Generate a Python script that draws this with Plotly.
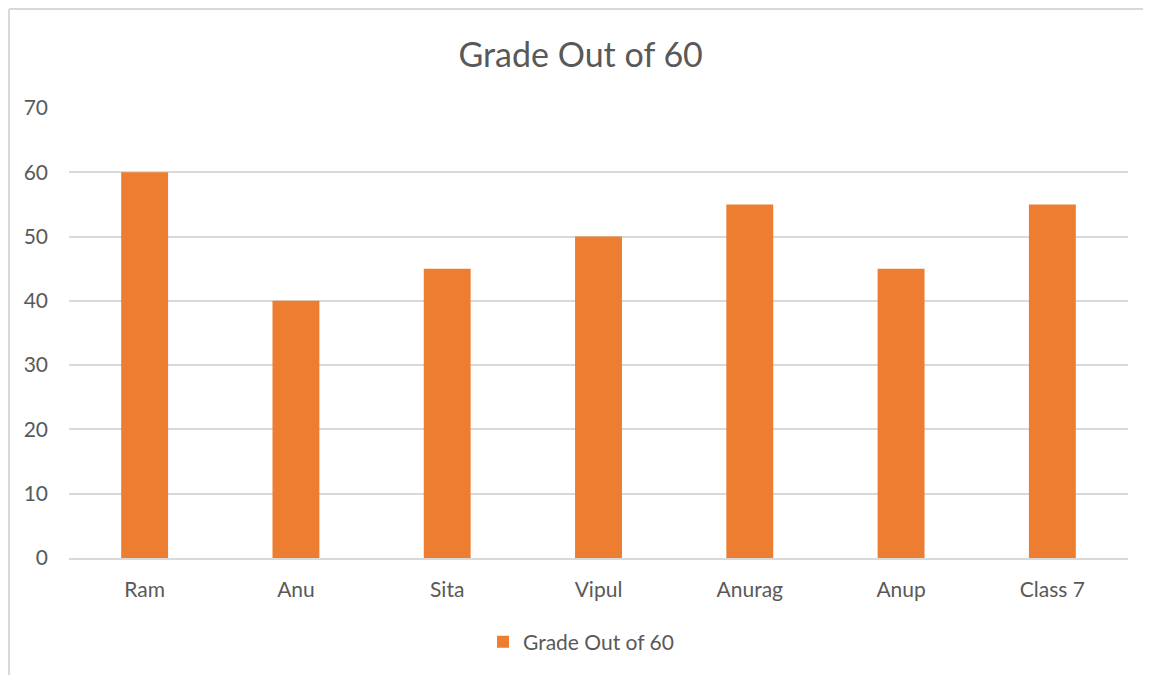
import plotly.graph_objects as go

categories = ["Ram", "Anu", "Sita", "Vipul", "Anurag", "Anup", "Class 7"]
grades = [60, 40, 45, 50, 55, 45, 55]
y_ticks = [0, 10, 20, 30, 40, 50, 60, 70]
series_name = "Grade Out of 60"
title_text = "Grade Out of 60"

FONT = "Lato, 'Open Sans', sans-serif"
GRID = "#d9d9d9"
TEXT = "#595959"

fig = go.Figure()
fig.add_trace(go.Bar(
    x=categories, y=grades, name=series_name,
    marker=dict(color="#ED7D31", line=dict(width=0)),
    showlegend=True,
))

# page body has an 8px margin; figure sized to fit the window
W, H = 1143, 667
L, R, T, B = 61, 23, 100, 117
pw, ph = W - L - R, H - T - B

bx = (1 - L) / pw
by = (H - B - 1) / ph

fig.update_layout(
    width=W, height=H,
    margin=dict(l=L, r=R, t=T, b=B, pad=0),
    paper_bgcolor="white", plot_bgcolor="white",
    font=dict(family=FONT, color=TEXT, size=21),
    title=dict(text=title_text, x=0.501, xref="container", xanchor="center",
               y=1 - 47 / H, yref="container", yanchor="middle",
               font=dict(size=34, color=TEXT, family=FONT)),
    bargap=0.69,
    legend=dict(orientation="h", x=0.4835, xanchor="center",
                y=(H - B - 634) / ph, yanchor="middle",
                font=dict(size=21, color=TEXT), itemwidth=30,
                itemsizing="constant"),
    xaxis=dict(showgrid=False, showline=True, linecolor=GRID, linewidth=1.5,
               ticks="", ticklabelstandoff=12,
               tickfont=dict(size=21, color=TEXT)),
    yaxis=dict(range=[0, 70], tickvals=y_ticks, showgrid=True, gridcolor=GRID,
               gridwidth=1.5, zeroline=False, showline=False, ticks="",
               ticklabelstandoff=20, tickfont=dict(size=21, color=TEXT)),
    shapes=[
        dict(type="line", xref="paper", yref="paper",
             x0=bx, x1=1.2, y0=by, y1=by,
             line=dict(color=GRID, width=2), layer="below"),
        dict(type="line", xref="paper", yref="paper",
             x0=bx, x1=bx, y0=-0.6, y1=by,
             line=dict(color=GRID, width=2), layer="below"),
    ],
)

fig.write_html("out.html")
